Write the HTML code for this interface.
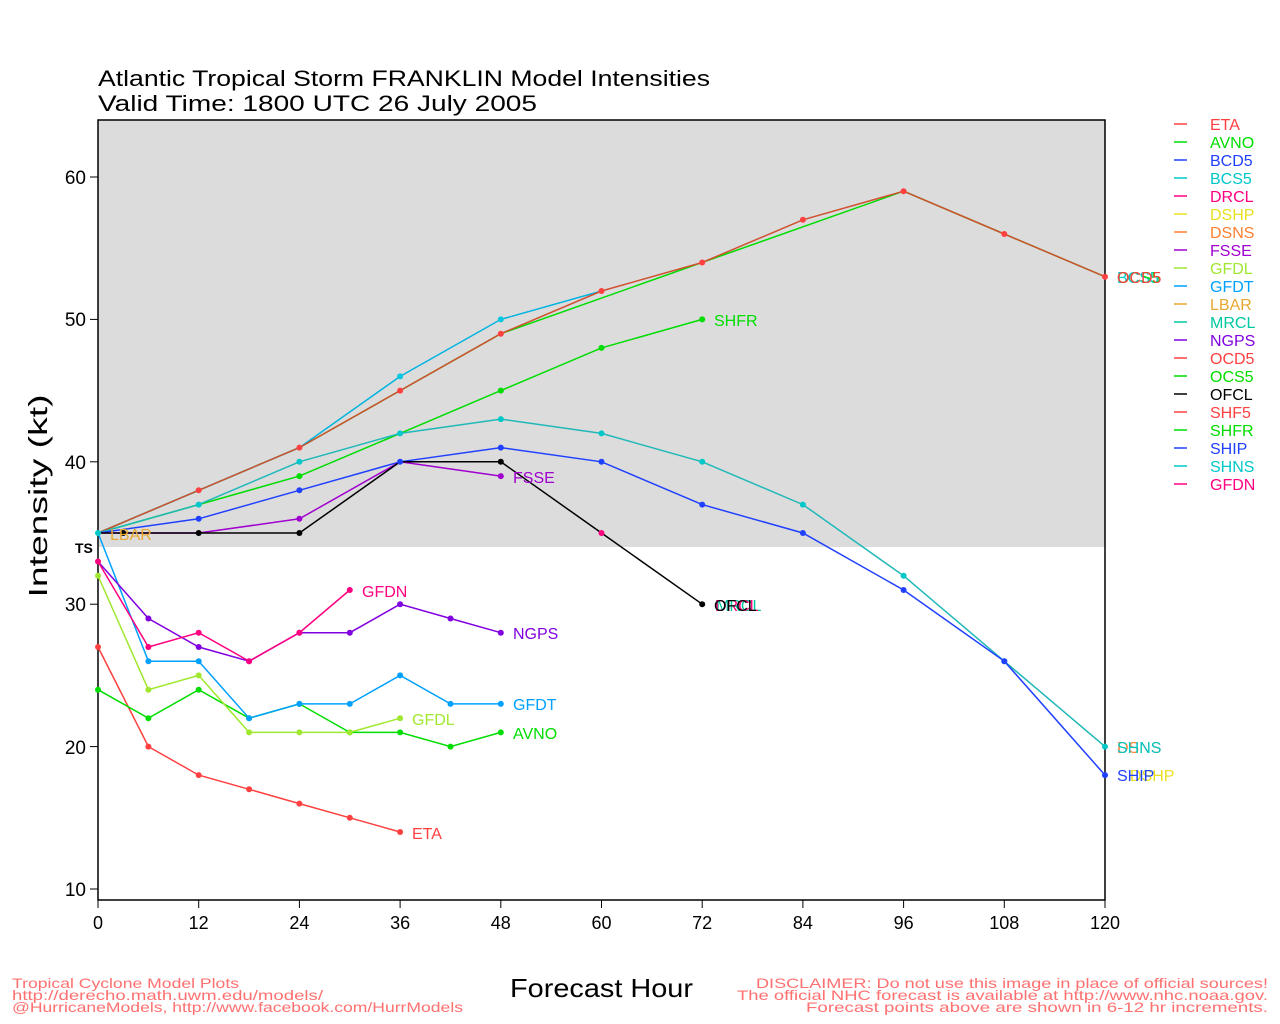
<!DOCTYPE html>
<html><head><meta charset="utf-8"><style>
html,body{margin:0;padding:0;background:#fff;}
svg{display:block;font-family:"Liberation Sans","DejaVu Sans",sans-serif;}
</style></head><body>
<svg width="1280" height="1024" viewBox="0 0 1280 1024" xmlns="http://www.w3.org/2000/svg">
<rect width="1280" height="1024" fill="#fff"/>
<rect x="98" y="120" width="1007" height="427" fill="#dcdcdc"/>
<rect x="98" y="120" width="1007" height="780" fill="none" stroke="#000" stroke-width="1.5"/>
<text x="98" y="86" font-size="22" fill="#000" textLength="612" lengthAdjust="spacingAndGlyphs">Atlantic Tropical Storm FRANKLIN Model Intensities</text>
<text x="98" y="111" font-size="22" fill="#000" textLength="439" lengthAdjust="spacingAndGlyphs">Valid Time: 1800 UTC 26 July 2005</text>
<g stroke="#000" stroke-width="1">
<line x1="90" y1="177" x2="98" y2="177"/><line x1="90" y1="319.4" x2="98" y2="319.4"/><line x1="90" y1="461.8" x2="98" y2="461.8"/><line x1="90" y1="604.2" x2="98" y2="604.2"/><line x1="90" y1="746.6" x2="98" y2="746.6"/><line x1="90" y1="889" x2="98" y2="889"/>
<line x1="98" y1="900" x2="98" y2="908"/><line x1="198.7" y1="900" x2="198.7" y2="908"/><line x1="299.4" y1="900" x2="299.4" y2="908"/><line x1="400.1" y1="900" x2="400.1" y2="908"/><line x1="500.8" y1="900" x2="500.8" y2="908"/><line x1="601.5" y1="900" x2="601.5" y2="908"/><line x1="702.2" y1="900" x2="702.2" y2="908"/><line x1="802.9" y1="900" x2="802.9" y2="908"/><line x1="903.6" y1="900" x2="903.6" y2="908"/><line x1="1004.3" y1="900" x2="1004.3" y2="908"/><line x1="1105" y1="900" x2="1105" y2="908"/>
</g>
<g font-size="19" fill="#000" text-anchor="end">
<text x="86" y="184">60</text><text x="86" y="326">50</text><text x="86" y="469">40</text><text x="86" y="611">30</text><text x="86" y="754">20</text><text x="86" y="896">10</text>
</g>
<g font-size="18" fill="#000" text-anchor="middle">
<text x="98" y="929">0</text><text x="198.7" y="929">12</text><text x="299.4" y="929">24</text><text x="400.1" y="929">36</text><text x="500.8" y="929">48</text><text x="601.5" y="929">60</text><text x="702.2" y="929">72</text><text x="802.9" y="929">84</text><text x="903.6" y="929">96</text><text x="1004.3" y="929">108</text><text x="1105" y="929">120</text>
</g>
<text x="75" y="553" font-size="14" font-weight="bold" fill="#000">TS</text>
<text transform="translate(47,496) rotate(-90)" font-size="26" fill="#000" text-anchor="middle" textLength="203" lengthAdjust="spacingAndGlyphs">Intensity (kt)</text>
<text x="510" y="997" font-size="26" fill="#000" textLength="183" lengthAdjust="spacingAndGlyphs">Forecast Hour</text>
<g font-size="14" fill="#ff7070">
<text x="12" y="988" textLength="227" lengthAdjust="spacingAndGlyphs">Tropical Cyclone Model Plots</text>
<text x="12" y="1000" textLength="311" lengthAdjust="spacingAndGlyphs">http://derecho.math.uwm.edu/models/</text>
<text x="12" y="1012" textLength="451" lengthAdjust="spacingAndGlyphs">@HurricaneModels, http://www.facebook.com/HurrModels</text>
<text x="756" y="988" textLength="512" lengthAdjust="spacingAndGlyphs">DISCLAIMER: Do not use this image in place of official sources!</text>
<text x="737" y="1000" textLength="531" lengthAdjust="spacingAndGlyphs">The official NHC forecast is available at http://www.nhc.noaa.gov.</text>
<text x="806" y="1012" textLength="462" lengthAdjust="spacingAndGlyphs">Forecast points above are shown in 6-12 hr increments.</text>
</g>

<g fill="none" stroke-width="1.5">
<polyline stroke="#00dd00" points="98,533 198.7,490.3 299.4,447.6 400.1,390.6 500.8,333.7 903.6,191.2 1004.3,234 1105,276.7"/>
<polyline stroke="#00b4e0" points="98,533 299.4,447.6 400.1,376.4 500.8,319.4 601.5,291"/>
<polyline stroke="#d05030" points="98,533 198.7,490.3 299.4,447.6 400.1,390.6 500.8,333.7 601.5,291 702.2,262.5 802.9,219.8 903.6,191.2 1004.3,234 1105,276.7"/>
<polyline stroke="#00dd00" points="98,533 198.7,504.6 299.4,476.1 400.1,433.4 500.8,390.6 601.5,347.9 702.2,319.4"/>
<polyline stroke="#20b8b8" points="98,533 198.7,504.6 299.4,461.8 400.1,433.4 500.8,419.1 601.5,433.4 702.2,461.8 802.9,504.6 903.6,575.8 1004.3,661.2 1105,746.6"/>
<polyline stroke="#2040ff" points="98,533 198.7,518.8 299.4,490.3 400.1,461.8 500.8,447.6 601.5,461.8 702.2,504.6 802.9,533 903.6,590 1004.3,661.2 1105,775.1"/>
<polyline stroke="#a000d0" points="98,533 198.7,533 299.4,518.8 400.1,461.8 500.8,476.1"/>
<polyline stroke="#000" points="98,533 123.2,533 198.7,533 299.4,533 400.1,461.8 500.8,461.8 601.5,533 702.2,604.2"/>
<polyline stroke="#ff4040" points="98,647 148.4,746.6 198.7,775.1 249.1,789.3 299.4,803.6 349.8,817.8 400.1,832"/>
<polyline stroke="#00dd00" points="98,689.7 148.4,718.2 198.7,689.7 249.1,718.2 299.4,703.9 349.8,732.4 400.1,732.4 450.5,746.6 500.8,732.4"/>
<polyline stroke="#a0e830" points="98,575.8 148.4,689.7 198.7,675.4 249.1,732.4 299.4,732.4 349.8,732.4 400.1,718.2"/>
<polyline stroke="#00a0ff" points="98,533 148.4,661.2 198.7,661.2 249.1,718.2 299.4,703.9 349.8,703.9 400.1,675.4 450.5,703.9 500.8,703.9"/>
<polyline stroke="#8000e0" points="98,561.5 148.4,618.5 198.7,647 249.1,661.2 299.4,632.7 349.8,632.7 400.1,604.2 450.5,618.5 500.8,632.7"/>
<polyline stroke="#ff0080" points="98,561.5 148.4,647 198.7,632.7 249.1,661.2 299.4,632.7 349.8,590"/>
</g>
<g>
<g fill="#ff4040"><circle cx="198.7" cy="490.3" r="3"/><circle cx="299.4" cy="447.6" r="3"/><circle cx="400.1" cy="390.6" r="3"/><circle cx="500.8" cy="333.7" r="3"/><circle cx="601.5" cy="291" r="3"/><circle cx="702.2" cy="262.5" r="3"/><circle cx="802.9" cy="219.8" r="3"/><circle cx="903.6" cy="191.2" r="3"/><circle cx="1004.3" cy="234" r="3"/><circle cx="1105" cy="276.7" r="3"/>
<circle cx="98" cy="647" r="3"/><circle cx="148.4" cy="746.6" r="3"/><circle cx="198.7" cy="775.1" r="3"/><circle cx="249.1" cy="789.3" r="3"/><circle cx="299.4" cy="803.6" r="3"/><circle cx="349.8" cy="817.8" r="3"/><circle cx="400.1" cy="832" r="3"/></g>
<g fill="#00c8e0"><circle cx="400.1" cy="376.4" r="3"/><circle cx="500.8" cy="319.4" r="3"/></g>
<g fill="#00dd00"><circle cx="299.4" cy="476.1" r="3"/><circle cx="500.8" cy="390.6" r="3"/><circle cx="601.5" cy="347.9" r="3"/><circle cx="702.2" cy="319.4" r="3"/>
<circle cx="98" cy="689.7" r="3"/><circle cx="148.4" cy="718.2" r="3"/><circle cx="198.7" cy="689.7" r="3"/><circle cx="249.1" cy="718.2" r="3"/><circle cx="299.4" cy="703.9" r="3"/><circle cx="349.8" cy="732.4" r="3"/><circle cx="400.1" cy="732.4" r="3"/><circle cx="450.5" cy="746.6" r="3"/><circle cx="500.8" cy="732.4" r="3"/></g>
<g fill="#00c8c8"><circle cx="198.7" cy="504.6" r="3"/><circle cx="299.4" cy="461.8" r="3"/><circle cx="400.1" cy="433.4" r="3"/><circle cx="500.8" cy="419.1" r="3"/><circle cx="601.5" cy="433.4" r="3"/><circle cx="702.2" cy="461.8" r="3"/><circle cx="802.9" cy="504.6" r="3"/><circle cx="903.6" cy="575.8" r="3"/><circle cx="1004.3" cy="661.2" r="3"/><circle cx="1105" cy="746.6" r="3"/><circle cx="98" cy="533" r="3"/></g>
<g fill="#2040ff"><circle cx="198.7" cy="518.8" r="3"/><circle cx="299.4" cy="490.3" r="3"/><circle cx="400.1" cy="461.8" r="3"/><circle cx="500.8" cy="447.6" r="3"/><circle cx="601.5" cy="461.8" r="3"/><circle cx="702.2" cy="504.6" r="3"/><circle cx="802.9" cy="533" r="3"/><circle cx="903.6" cy="590" r="3"/><circle cx="1004.3" cy="661.2" r="3"/><circle cx="1105" cy="775.1" r="3"/></g>
<g fill="#a000d0"><circle cx="299.4" cy="518.8" r="3"/><circle cx="500.8" cy="476.1" r="3"/></g>
<g fill="#000"><circle cx="123.2" cy="533" r="3"/><circle cx="198.7" cy="533" r="3"/><circle cx="299.4" cy="533" r="3"/><circle cx="500.8" cy="461.8" r="3"/><circle cx="702.2" cy="604.2" r="3"/></g>
<circle cx="601.5" cy="533" r="3" fill="#ff0080"/>
<g fill="#a0e830"><circle cx="98" cy="575.8" r="3"/><circle cx="148.4" cy="689.7" r="3"/><circle cx="198.7" cy="675.4" r="3"/><circle cx="249.1" cy="732.4" r="3"/><circle cx="299.4" cy="732.4" r="3"/><circle cx="349.8" cy="732.4" r="3"/><circle cx="400.1" cy="718.2" r="3"/></g>
<g fill="#00a0ff"><circle cx="148.4" cy="661.2" r="3"/><circle cx="198.7" cy="661.2" r="3"/><circle cx="249.1" cy="718.2" r="3"/><circle cx="299.4" cy="703.9" r="3"/><circle cx="349.8" cy="703.9" r="3"/><circle cx="400.1" cy="675.4" r="3"/><circle cx="450.5" cy="703.9" r="3"/><circle cx="500.8" cy="703.9" r="3"/></g>
<g fill="#8000e0"><circle cx="148.4" cy="618.5" r="3"/><circle cx="198.7" cy="647" r="3"/><circle cx="249.1" cy="661.2" r="3"/><circle cx="299.4" cy="632.7" r="3"/><circle cx="349.8" cy="632.7" r="3"/><circle cx="400.1" cy="604.2" r="3"/><circle cx="450.5" cy="618.5" r="3"/><circle cx="500.8" cy="632.7" r="3"/></g>
<g fill="#ff0080"><circle cx="98" cy="561.5" r="3"/><circle cx="148.4" cy="647" r="3"/><circle cx="198.7" cy="632.7" r="3"/><circle cx="249.1" cy="661.2" r="3"/><circle cx="299.4" cy="632.7" r="3"/><circle cx="349.8" cy="590" r="3"/></g>
</g>
<g font-size="16">
<text x="110" y="540" fill="#e8a830">LBAR</text>
<text x="412" y="839" fill="#ff4040">ETA</text>
<text x="513" y="739" fill="#00dd00">AVNO</text>
<text x="412" y="725" fill="#a0e830">GFDL</text>
<text x="513" y="710" fill="#00a0ff">GFDT</text>
<text x="513" y="639" fill="#8000e0">NGPS</text>
<text x="362" y="597" fill="#ff0080">GFDN</text>
<text x="513" y="483" fill="#a000d0">FSSE</text>
<text x="714" y="326" fill="#00dd00">SHFR</text>
<text x="716" y="611" fill="#00c8a0">MRCL</text>
<text x="715" y="611" fill="#ff0080">DRCL</text>
<text x="714" y="611" fill="#000">OFCL</text>
<text x="1117" y="283" fill="#00c8c8">BCS5</text>
<text x="1117" y="283" fill="#00dd00">OCS5</text>
<text x="1117" y="283" fill="#ff4040">OCD5</text>
<text x="1117" y="753" fill="#ff8030">DSNS</text>
<text x="1117" y="753" fill="#00c8c8">SHNS</text>
<text x="1130" y="781" fill="#e8e020">DSHP</text>
<text x="1117" y="781" fill="#2040ff">SHIP</text>
</g>
<g font-size="16">
<g stroke-width="1.5">
<line x1="1174" x2="1187" y1="124" y2="124" stroke="#ff4040"/>
<line x1="1174" x2="1187" y1="142" y2="142" stroke="#00dd00"/>
<line x1="1174" x2="1187" y1="160" y2="160" stroke="#2040ff"/>
<line x1="1174" x2="1187" y1="178" y2="178" stroke="#00c8c8"/>
<line x1="1174" x2="1187" y1="196" y2="196" stroke="#ff0080"/>
<line x1="1174" x2="1187" y1="214" y2="214" stroke="#e8e020"/>
<line x1="1174" x2="1187" y1="232" y2="232" stroke="#ff8030"/>
<line x1="1174" x2="1187" y1="250" y2="250" stroke="#a000d0"/>
<line x1="1174" x2="1187" y1="268" y2="268" stroke="#a0e830"/>
<line x1="1174" x2="1187" y1="286" y2="286" stroke="#00a0ff"/>
<line x1="1174" x2="1187" y1="304" y2="304" stroke="#e8a830"/>
<line x1="1174" x2="1187" y1="322" y2="322" stroke="#00c8a0"/>
<line x1="1174" x2="1187" y1="340" y2="340" stroke="#8000e0"/>
<line x1="1174" x2="1187" y1="358" y2="358" stroke="#ff4040"/>
<line x1="1174" x2="1187" y1="376" y2="376" stroke="#00dd00"/>
<line x1="1174" x2="1187" y1="394" y2="394" stroke="#000"/>
<line x1="1174" x2="1187" y1="412" y2="412" stroke="#ff4040"/>
<line x1="1174" x2="1187" y1="430" y2="430" stroke="#00dd00"/>
<line x1="1174" x2="1187" y1="448" y2="448" stroke="#2040ff"/>
<line x1="1174" x2="1187" y1="466" y2="466" stroke="#00c8c8"/>
<line x1="1174" x2="1187" y1="484" y2="484" stroke="#ff0080"/>
</g>
<text x="1210" y="130" fill="#ff4040">ETA</text>
<text x="1210" y="148" fill="#00dd00">AVNO</text>
<text x="1210" y="166" fill="#2040ff">BCD5</text>
<text x="1210" y="184" fill="#00c8c8">BCS5</text>
<text x="1210" y="202" fill="#ff0080">DRCL</text>
<text x="1210" y="220" fill="#e8e020">DSHP</text>
<text x="1210" y="238" fill="#ff8030">DSNS</text>
<text x="1210" y="256" fill="#a000d0">FSSE</text>
<text x="1210" y="274" fill="#a0e830">GFDL</text>
<text x="1210" y="292" fill="#00a0ff">GFDT</text>
<text x="1210" y="310" fill="#e8a830">LBAR</text>
<text x="1210" y="328" fill="#00c8a0">MRCL</text>
<text x="1210" y="346" fill="#8000e0">NGPS</text>
<text x="1210" y="364" fill="#ff4040">OCD5</text>
<text x="1210" y="382" fill="#00dd00">OCS5</text>
<text x="1210" y="400" fill="#000">OFCL</text>
<text x="1210" y="418" fill="#ff4040">SHF5</text>
<text x="1210" y="436" fill="#00dd00">SHFR</text>
<text x="1210" y="454" fill="#2040ff">SHIP</text>
<text x="1210" y="472" fill="#00c8c8">SHNS</text>
<text x="1210" y="490" fill="#ff0080">GFDN</text>
</g>
</svg>
</body></html>
